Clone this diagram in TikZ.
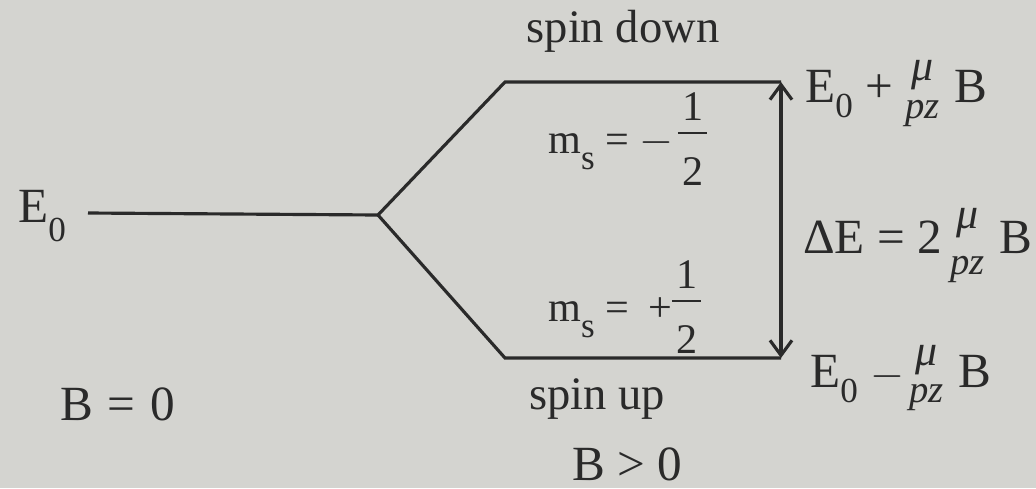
\documentclass[tikz,border=0pt]{standalone}
\usepackage{fontspec}
\setmainfont{Liberation Serif}
\usetikzlibrary{arrows.meta,positioning,calc}
\definecolor{pg}{HTML}{D4D4D0}
\definecolor{ink}{HTML}{2A2A2A}
% stacked mu over pz: #1 raise, #2 lower
\newcommand{\Mpz}[2]{{\fontsize{22}{26}\selectfont\itshape\setbox0\hbox{pz}%
  \rlap{\makebox[\wd0]{\raisebox{#1}{\fontsize{25}{30}\selectfont μ}}}\raisebox{-#2}{pz}}}
\newcommand{\Sub}[2][9pt]{\raisebox{-#1}{\fontsize{20}{24}\selectfont #2}}
\newcommand{\Half}{{\setbox0\hbox{2}%
  \rlap{\makebox[1.4\wd0]{\raisebox{0.77em}{1}}}%
  \rlap{\raisebox{0.44em}{\rule{1.4\wd0}{0.05em}}}%
  \makebox[1.4\wd0]{\raisebox{-0.76em}{2}}}}

\begin{document}
\begin{tikzpicture}[x=0.02cm,y=-0.02cm,
    lvl/.style={draw=ink, line width=1.8pt, line join=miter},
    gap/.style={draw=ink, line width=1.8pt, {Straight Barb[length=3mm,width=4.4mm]}-{Straight Barb[length=3mm,width=4.4mm]}},
    lbl/.style={text=ink, inner sep=0pt, font=\fontsize{28}{34}\selectfont},
    spin/.style={lbl, font=\fontsize{26.5}{32}\selectfont},
    ms/.style={lbl, font=\fontsize{24}{30}\selectfont}]
  \fill[pg] (0,0) rectangle (1036,488);
  % levels
  \node[lbl, anchor=base west] (e0) at (18,222) {E\Sub[11pt]{0}};
  \coordinate (start) at (88,213);
  \coordinate (split) at (378,215);
  \coordinate (uk) at (505,82);
  \coordinate (lk) at (505,358);
  \coordinate (ue) at (781,82);
  \coordinate (le) at (781,358);
  \draw[lvl] (start) -- (split) -- (uk) -- (ue);
  \draw[lvl] (split) -- (lk) -- (le);
  \draw[gap] (le) -- (ue);
  % labels
  \node[spin, anchor=base] (down) at (623,42) {spin down};
  \node[spin, anchor=base] (up) at (597,409) {spin up};
  \node[ms, anchor=base west] (msd) at (548,153) {m\Sub[9.5pt]{s} = $-$\hspace{0.1em}\Half};
  \node[ms, anchor=base west] (msu) at (548,321) {m\Sub[9.5pt]{s} =\hspace{0.45em}+\Half};
  \node[lbl, anchor=base west] (eup) at (805,102) {E\Sub{0} + \Mpz{12pt}{9.5pt}\hspace{0.3em}B};
  \node[lbl, anchor=base west] (de) at (803,253) {ΔE = 2\,\Mpz{14pt}{12.5pt}\hspace{0.3em}B};
  \node[lbl, anchor=base west] (elo) at (810,387) {E\Sub{0} $-$\hspace{0.1em}\Mpz{12.5pt}{9pt}\hspace{0.3em}B};
  \node[lbl, anchor=base west] (bz) at (60,420) {B\hspace{0.3em}=\hspace{0.3em}0};
  \node[lbl, anchor=base west] (bp) at (572,480) {B > 0};
\end{tikzpicture}
\end{document}
